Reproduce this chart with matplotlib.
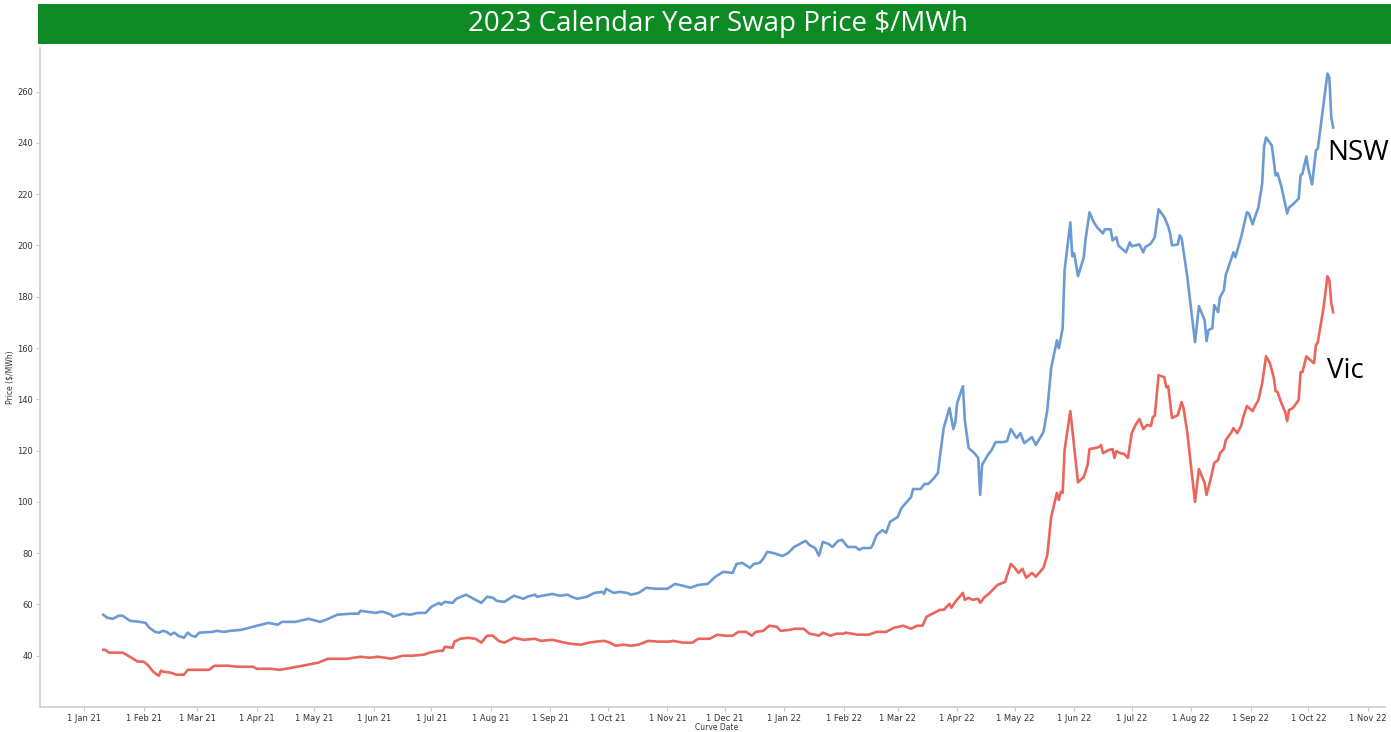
import matplotlib
matplotlib.use('Agg')
import matplotlib.pyplot as plt
import matplotlib.dates as mdates
import matplotlib.ticker as mticker
import pandas as pd

# NSW series (curve date, $/MWh)
nsw_dates = [
    '2021-01-11', '2021-01-13', '2021-01-16', '2021-01-19', '2021-01-21', '2021-01-25', '2021-01-30',
    '2021-02-02', '2021-02-04', '2021-02-07', '2021-02-09', '2021-02-11', '2021-02-13', '2021-02-15',
    '2021-02-17', '2021-02-19', '2021-02-22', '2021-02-24', '2021-02-26', '2021-02-28', '2021-03-02',
    '2021-03-09', '2021-03-11', '2021-03-15', '2021-03-18', '2021-03-24', '2021-03-30', '2021-04-07',
    '2021-04-12', '2021-04-14', '2021-04-21', '2021-04-28', '2021-05-04', '2021-05-07', '2021-05-13',
    '2021-05-20', '2021-05-24', '2021-05-25', '2021-05-29', '2021-06-02', '2021-06-04', '2021-06-06',
    '2021-06-10', '2021-06-11', '2021-06-16', '2021-06-20', '2021-06-24', '2021-06-28', '2021-07-01',
    '2021-07-05', '2021-07-06', '2021-07-08', '2021-07-12', '2021-07-14', '2021-07-19', '2021-07-23',
    '2021-07-27', '2021-07-30', '2021-08-02', '2021-08-04', '2021-08-08', '2021-08-13', '2021-08-18',
    '2021-08-20', '2021-08-24', '2021-08-25', '2021-08-28', '2021-09-02', '2021-09-06', '2021-09-10',
    '2021-09-12', '2021-09-15', '2021-09-20', '2021-09-24', '2021-09-28', '2021-09-29', '2021-09-30',
    '2021-10-04', '2021-10-07', '2021-10-11', '2021-10-13', '2021-10-17', '2021-10-21', '2021-10-26',
    '2021-11-01', '2021-11-05', '2021-11-09', '2021-11-13', '2021-11-17', '2021-11-22', '2021-11-26',
    '2021-11-30', '2021-12-05', '2021-12-07', '2021-12-10', '2021-12-14', '2021-12-16', '2021-12-19',
    '2021-12-21', '2021-12-23', '2021-12-26', '2021-12-31', '2022-01-03', '2022-01-06', '2022-01-09',
    '2022-01-12', '2022-01-14', '2022-01-17', '2022-01-19', '2022-01-21', '2022-01-24', '2022-01-26',
    '2022-01-29', '2022-01-31', '2022-02-03', '2022-02-07', '2022-02-09', '2022-02-11', '2022-02-15',
    '2022-02-16', '2022-02-18', '2022-02-21', '2022-02-23', '2022-02-25', '2022-03-01', '2022-03-03',
    '2022-03-08', '2022-03-09', '2022-03-13', '2022-03-15', '2022-03-17', '2022-03-20', '2022-03-22',
    '2022-03-23', '2022-03-25', '2022-03-28', '2022-03-30', '2022-03-31', '2022-04-01', '2022-04-04',
    '2022-04-05', '2022-04-07', '2022-04-10', '2022-04-12', '2022-04-13', '2022-04-14', '2022-04-17',
    '2022-04-19', '2022-04-21', '2022-04-25', '2022-04-27', '2022-04-29', '2022-05-02', '2022-05-04',
    '2022-05-06', '2022-05-10', '2022-05-12', '2022-05-16', '2022-05-18', '2022-05-20', '2022-05-23',
    '2022-05-24', '2022-05-26', '2022-05-27', '2022-05-30', '2022-05-31', '2022-06-01', '2022-06-03',
    '2022-06-06', '2022-06-07', '2022-06-09', '2022-06-11', '2022-06-13', '2022-06-16', '2022-06-17',
    '2022-06-20', '2022-06-21', '2022-06-23', '2022-06-24', '2022-06-28', '2022-06-30', '2022-07-01',
    '2022-07-05', '2022-07-07', '2022-07-08', '2022-07-11', '2022-07-13', '2022-07-15', '2022-07-18',
    '2022-07-20', '2022-07-21', '2022-07-22', '2022-07-25', '2022-07-26', '2022-07-27', '2022-07-30',
    '2022-08-01', '2022-08-03', '2022-08-05', '2022-08-08', '2022-08-09', '2022-08-10', '2022-08-12',
    '2022-08-13', '2022-08-15', '2022-08-16', '2022-08-18', '2022-08-19', '2022-08-23', '2022-08-24',
    '2022-08-27', '2022-08-30', '2022-08-31', '2022-09-02', '2022-09-03', '2022-09-05', '2022-09-07',
    '2022-09-08', '2022-09-09', '2022-09-12', '2022-09-14', '2022-09-15', '2022-09-17', '2022-09-18',
    '2022-09-20', '2022-09-21', '2022-09-23', '2022-09-26', '2022-09-27', '2022-09-28', '2022-09-30',
    '2022-10-01', '2022-10-03', '2022-10-05', '2022-10-06', '2022-10-08', '2022-10-11', '2022-10-12',
    '2022-10-13', '2022-10-14',
]
nsw_vals = [
    56.0, 54.8, 54.4, 55.6, 55.6, 53.6, 53.2,
    52.8, 50.9, 49.3, 49.0, 49.7, 49.3, 48.2,
    49.0, 47.8, 47.0, 49.0, 47.8, 47.4, 49.0,
    49.3, 49.7, 49.3, 49.7, 50.1, 51.3, 52.8,
    52.1, 53.2, 53.2, 54.4, 53.2, 54.0, 56.0,
    56.4, 56.4, 57.5, 57.1, 56.7, 57.1, 57.1,
    56.0, 55.2, 56.4, 56.0, 56.7, 56.7, 59.1,
    60.6, 59.9, 61.0, 60.6, 62.2, 63.8, 62.2,
    60.6, 63.0, 62.6, 61.4, 61.0, 63.4, 62.2,
    63.0, 63.8, 63.0, 63.4, 64.1, 63.4, 63.8,
    63.0, 62.2, 63.0, 64.5, 64.9, 64.1, 66.1,
    64.5, 64.9, 64.5, 63.8, 64.5, 66.5, 66.1,
    66.1, 68.0, 67.3, 66.5, 67.6, 68.0, 70.8,
    72.7, 72.3, 75.8, 76.2, 74.3, 75.8, 76.2,
    77.8, 80.5, 80.1, 78.9, 80.1, 82.4, 83.6,
    84.8, 83.2, 82.0, 79.0, 84.4, 83.6, 82.4,
    84.8, 85.2, 82.4, 82.4, 81.3, 82.0, 82.0,
    83.2, 87.0, 89.0, 87.9, 92.2, 94.1, 97.6,
    101.9, 105.0, 105.0, 107.0, 107.0, 109.3, 111.3,
    117.5, 128.8, 136.6, 128.4, 130.7, 138.5, 145.1,
    131.9, 121.0, 119.0, 117.1, 102.7, 114.4, 118.3,
    120.2, 123.3, 123.3, 123.7, 128.4, 124.9, 126.8,
    122.9, 125.3, 122.2, 127.2, 135.8, 152.1, 163.0,
    159.9, 167.7, 190.3, 209.0, 195.8, 196.9, 188.0,
    195.4, 202.8, 212.9, 209.4, 207.0, 204.7, 206.3,
    206.3, 202.0, 203.2, 200.0, 197.3, 201.2, 199.7,
    200.4, 197.3, 199.3, 200.8, 203.2, 214.1, 211.0,
    207.4, 204.7, 200.0, 200.4, 203.9, 202.8, 187.6,
    174.7, 162.3, 176.3, 170.8, 162.7, 167.0, 167.7,
    176.7, 174.0, 179.8, 182.5, 188.4, 197.3, 195.4,
    203.2, 212.9, 212.5, 208.2, 210.6, 214.8, 224.2,
    238.6, 242.1, 239.0, 227.3, 228.1, 223.0, 219.5,
    212.5, 214.8, 216.0, 218.3, 227.3, 228.1, 234.7,
    230.0, 223.8, 237.0, 237.8, 249.5, 267.0, 265.5,
    249.9, 246.0,
]

# Vic series (curve date, $/MWh)
vic_dates = [
    '2021-01-11', '2021-01-12', '2021-01-14', '2021-01-21', '2021-01-23', '2021-01-29', '2021-02-01',
    '2021-02-03', '2021-02-06', '2021-02-08', '2021-02-09', '2021-02-10', '2021-02-11', '2021-02-15',
    '2021-02-18', '2021-02-22', '2021-02-24', '2021-03-02', '2021-03-07', '2021-03-10', '2021-03-17',
    '2021-03-22', '2021-03-30', '2021-04-01', '2021-04-08', '2021-04-13', '2021-04-19', '2021-04-25',
    '2021-05-03', '2021-05-08', '2021-05-13', '2021-05-18', '2021-05-25', '2021-05-30', '2021-06-03',
    '2021-06-07', '2021-06-10', '2021-06-16', '2021-06-21', '2021-06-27', '2021-06-30', '2021-07-05',
    '2021-07-07', '2021-07-08', '2021-07-12', '2021-07-13', '2021-07-16', '2021-07-20', '2021-07-24',
    '2021-07-27', '2021-07-30', '2021-08-02', '2021-08-05', '2021-08-08', '2021-08-13', '2021-08-18',
    '2021-08-24', '2021-08-27', '2021-09-02', '2021-09-06', '2021-09-11', '2021-09-17', '2021-09-21',
    '2021-09-25', '2021-09-29', '2021-10-02', '2021-10-05', '2021-10-09', '2021-10-13', '2021-10-17',
    '2021-10-22', '2021-10-27', '2021-11-02', '2021-11-04', '2021-11-09', '2021-11-14', '2021-11-17',
    '2021-11-23', '2021-11-27', '2021-12-01', '2021-12-05', '2021-12-08', '2021-12-12', '2021-12-15',
    '2021-12-17', '2021-12-21', '2021-12-24', '2021-12-28', '2021-12-30', '2022-01-04', '2022-01-06',
    '2022-01-11', '2022-01-14', '2022-01-17', '2022-01-19', '2022-01-21', '2022-01-25', '2022-01-28',
    '2022-02-01', '2022-02-02', '2022-02-08', '2022-02-14', '2022-02-18', '2022-02-23', '2022-02-27',
    '2022-03-04', '2022-03-08', '2022-03-11', '2022-03-14', '2022-03-16', '2022-03-20', '2022-03-23',
    '2022-03-25', '2022-03-28', '2022-03-29', '2022-03-31', '2022-04-04', '2022-04-05', '2022-04-07',
    '2022-04-09', '2022-04-12', '2022-04-13', '2022-04-15', '2022-04-18', '2022-04-22', '2022-04-26',
    '2022-04-29', '2022-05-01', '2022-05-03', '2022-05-05', '2022-05-07', '2022-05-10', '2022-05-12',
    '2022-05-16', '2022-05-18', '2022-05-20', '2022-05-23', '2022-05-24', '2022-05-25', '2022-05-26',
    '2022-05-27', '2022-05-30', '2022-06-01', '2022-06-03', '2022-06-06', '2022-06-08', '2022-06-09',
    '2022-06-12', '2022-06-14', '2022-06-15', '2022-06-16', '2022-06-19', '2022-06-21', '2022-06-22',
    '2022-06-23', '2022-06-25', '2022-06-27', '2022-06-29', '2022-07-01', '2022-07-03', '2022-07-05',
    '2022-07-07', '2022-07-09', '2022-07-11', '2022-07-12', '2022-07-13', '2022-07-15', '2022-07-18',
    '2022-07-19', '2022-07-20', '2022-07-22', '2022-07-25', '2022-07-27', '2022-07-28', '2022-07-30',
    '2022-08-01', '2022-08-03', '2022-08-05', '2022-08-08', '2022-08-09', '2022-08-11', '2022-08-13',
    '2022-08-15', '2022-08-16', '2022-08-18', '2022-08-19', '2022-08-22', '2022-08-23', '2022-08-25',
    '2022-08-27', '2022-08-28', '2022-08-30', '2022-09-02', '2022-09-03', '2022-09-05', '2022-09-07',
    '2022-09-09', '2022-09-11', '2022-09-13', '2022-09-14', '2022-09-15', '2022-09-17', '2022-09-19',
    '2022-09-20', '2022-09-21', '2022-09-23', '2022-09-26', '2022-09-27', '2022-09-28', '2022-09-30',
    '2022-10-01', '2022-10-04', '2022-10-05', '2022-10-06', '2022-10-09', '2022-10-11', '2022-10-12',
    '2022-10-13', '2022-10-14',
]
vic_vals = [
    42.3, 42.3, 41.2, 41.2, 40.4, 37.7, 37.7,
    36.5, 33.8, 32.6, 32.2, 34.2, 33.8, 33.4,
    32.6, 32.6, 34.5, 34.5, 34.5, 36.1, 36.1,
    35.7, 35.7, 34.9, 34.9, 34.5, 35.3, 36.1,
    37.3, 38.8, 38.8, 38.8, 39.6, 39.2, 39.6,
    39.2, 38.8, 40.0, 40.0, 40.4, 41.2, 41.9,
    41.9, 43.5, 43.1, 45.5, 46.6, 47.0, 46.6,
    45.1, 47.8, 47.8, 45.8, 45.1, 47.0, 46.2,
    46.6, 45.8, 46.2, 45.5, 44.7, 44.3, 45.1,
    45.5, 45.8, 45.1, 43.9, 44.3, 43.9, 44.3,
    45.8, 45.5, 45.5, 45.8, 45.1, 45.1, 46.6,
    46.6, 48.2, 47.8, 47.8, 49.3, 49.3, 47.8,
    49.3, 49.7, 51.7, 51.3, 49.7, 50.1, 50.5,
    50.5, 48.6, 48.2, 47.8, 49.0, 47.8, 48.6,
    48.6, 49.0, 48.2, 48.2, 49.3, 49.3, 50.9,
    51.7, 50.5, 51.7, 51.7, 55.2, 56.7, 57.9,
    57.9, 60.2, 58.7, 61.0, 64.5, 61.8, 62.6,
    61.8, 62.2, 60.6, 62.6, 64.5, 67.6, 68.8,
    75.8, 74.3, 72.3, 73.9, 70.4, 72.3, 70.8,
    74.3, 79.3, 94.1, 103.5, 100.7, 103.9, 103.5,
    120.2, 135.4, 121.4, 107.6, 109.7, 114.4, 120.6,
    121.0, 121.4, 122.2, 119.0, 120.2, 120.6, 117.1,
    119.8, 119.0, 118.7, 117.1, 126.8, 130.0, 132.3,
    128.4, 130.0, 129.6, 133.1, 133.5, 149.4, 148.6,
    144.7, 145.1, 132.7, 133.8, 138.9, 136.6, 126.8,
    113.2, 100.0, 112.8, 107.4, 102.7, 108.5, 115.2,
    116.3, 119.0, 120.6, 124.1, 127.2, 128.8, 126.8,
    129.6, 132.7, 137.4, 135.4, 137.0, 139.7, 146.3,
    156.8, 154.1, 148.6, 143.2, 142.8, 138.5, 135.0,
    131.5, 135.8, 136.6, 139.7, 150.6, 150.6, 156.8,
    156.0, 154.1, 161.1, 162.3, 175.9, 188.0, 186.4,
    177.5, 174.0,
]

y_ticks = [40, 60, 80, 100, 120, 140, 160, 180, 200, 220, 240, 260]

nsw = pd.Series(nsw_vals, index=pd.to_datetime(nsw_dates))
vic = pd.Series(vic_vals, index=pd.to_datetime(vic_dates))

fig = plt.figure(figsize=(13.91, 7.32), dpi=100)

# green title banner
fig.patches.append(plt.Rectangle((38 / 1391, 1 - 44 / 732), 1 - 38 / 1391, 40 / 732,
                                 transform=fig.transFigure, facecolor='#0e8a25',
                                 edgecolor='none', zorder=0))
fig.text(0.5165, 1 - 24 / 732, '2023 Calendar Year Swap Price $/MWh', color='white',
         fontsize=20, family='Open Sans', ha='center', va='center')

ax = fig.add_axes([40 / 1391, 25 / 732, 1345 / 1391, 659 / 732])
ax.plot(nsw.index, nsw.values, color='#6b9bd2', lw=1.9)
ax.plot(vic.index, vic.values, color='#ea655b', lw=1.9)

ax.set_xlim(pd.Timestamp('2020-12-09'), pd.Timestamp('2022-11-10'))
ax.set_ylim(20, 277)
ax.set_yticks(y_ticks)

ax.xaxis.set_major_locator(mdates.MonthLocator())
ax.xaxis.set_major_formatter(mticker.FuncFormatter(
    lambda v, p: '{} {}'.format(mdates.num2date(v).day, mdates.num2date(v).strftime('%b %y'))))

for s in ['top', 'right']:
    ax.spines[s].set_visible(False)
for s in ['left', 'bottom']:
    ax.spines[s].set_color('#d0d0d0')
    ax.spines[s].set_linewidth(1.2)
ax.tick_params(axis='both', colors='#c8c8c8', length=3, width=0.8, labelsize=6,
               labelcolor='#333333', pad=2)

ax.set_ylabel('Price ($/MWh)', fontsize=5.5, color='#333333')
ax.yaxis.set_label_coords(-0.019, 0.5)
ax.set_xlabel('Curve Date', fontsize=5.5, color='#333333')
ax.xaxis.set_label_coords(0.503, -0.024)

# series labels
ax.text(pd.Timestamp('2022-10-11'), 236, 'NSW', fontsize=20, family='Open Sans',
        ha='left', va='center', color='black')
ax.text(pd.Timestamp('2022-10-11'), 151, 'Vic', fontsize=20, family='Open Sans',
        ha='left', va='center', color='black')

fig.savefig('out.png', dpi=100)
